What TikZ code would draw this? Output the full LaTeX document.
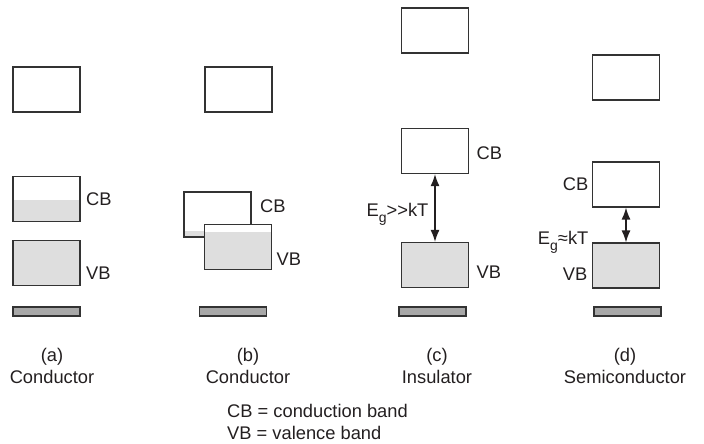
\documentclass[tikz,border=0pt]{standalone}
\usepackage{fontspec}
\setmainfont{Liberation Sans}
\usepackage{xcolor}
\definecolor{bdink}{HTML}{231F20}
\definecolor{bdline}{HTML}{333333}
\definecolor{bdfill}{HTML}{DEDEDE}
\definecolor{bdbarfill}{HTML}{A8A8A8}
\usepackage{tikz}
\usetikzlibrary{arrows.meta,positioning}
\newcommand\bdfont{\fontsize{18.3}{22}\selectfont}
\newcommand\bdsub[1]{\raisebox{-0.32em}{\fontsize{14}{14}\selectfont #1}}
\tikzset{
  bdband/.style ={rectangle, draw=bdline, fill=white, line width=1.3pt,
                  minimum width=67pt, minimum height=45pt, inner sep=0pt, outer sep=0pt},
  bdfull/.style ={bdband, fill=bdfill},
  bdpart/.style ={bdband, path picture={\fill[bdfill] (path picture bounding box.south west)
                  rectangle ([yshift=#1]path picture bounding box.north east);}},
  bdbar/.style  ={rectangle, draw=bdline, fill=bdbarfill, line width=1.3pt,
                  minimum width=67pt, minimum height=9pt, inner sep=0pt},
  bdlbl/.style  ={font=\bdfont, text=bdink, inner sep=0pt},
  bdgap/.style  ={{Latex[length=12pt,width=9pt]}-{Latex[length=12pt,width=9pt]},
                  line width=1.3pt, draw=bdink, shorten <=0.6pt, shorten >=0.6pt},
}

\begin{document}
\begin{tikzpicture}[x=1pt, y=-1pt]
  \useasboundingbox (0,0) rectangle (704,444);
  % empty upper bands and the lowest bands
  \foreach \n/\x/\y/\bx in {a/46.5/89.5/46.5, b/238.5/89.5/233, c/435/30.5/432.5, d/626/77.5/627.5}{
    \node[bdband] (top\n) at (\x,\y) {};
    \node[bdbar] (bar\n) at (\bx,311.5) {};
  }
  % (a) partly filled conduction band
  \node[bdpart=-23pt] (aCB) at (46.5,199) {};
  \node[bdfull] (aVB) at (46.5,263) {};
  \node[bdlbl, right=6pt of aCB.east] (aCBl) {CB};
  \node[bdlbl, right=6pt of aVB.east, yshift=-10pt] (aVBl) {VB};
  % (b) overlapping bands
  \node[bdpart=-39pt] (bCB) at (217.5,214.5) {};
  \node[bdpart=-7pt] (bVB) at (238,247) {};
  \node[bdlbl, right=9pt of bCB.east, yshift=8.5pt] (bCBl) {CB};
  \node[bdlbl, right=5pt of bVB.east, yshift=-12pt] (bVBl) {VB};
  % (c) wide gap
  \node[bdband] (cCB) at (435,151) {};
  \node[bdfull] (cVB) at (435,265) {};
  \node[bdlbl, right=8pt of cCB.east, yshift=-2pt] (cCBl) {CB};
  \node[bdlbl, right=8pt of cVB.east, yshift=-7pt] (cVBl) {VB};
  \draw[bdgap] (cCB.south) -- node[bdlbl, left=6pt, yshift=-6.5pt] (cEg) {E\bdsub{g}>{}>kT} (cVB.north);
  % (d) narrow gap
  \node[bdband] (dCB) at (626,184.5) {};
  \node[bdfull] (dVB) at (626,265.5) {};
  \node[bdlbl, left=4pt of dCB.west] (dCBl) {CB};
  \node[bdlbl, left=5pt of dVB.west, yshift=-8.5pt] (dVBl) {VB};
  \draw[bdgap] (dCB.south) -- node[bdlbl, pos=1, left=37pt, yshift=1pt] (dEg) {E\bdsub{g}≈kT} (dVB.north);
  % captions
  \foreach \n/\x/\txt in {a/52/Conductor, b/248/Conductor, c/437/Insulator, d/625/Semiconductor}
    \node[bdlbl, align=center] (cap\n) at (\x,366) {(\n)\\\txt};
  \node[bdlbl, align=left, anchor=north west, font=\fontsize{18.3}{21.5}\selectfont] (legend) at (227,404.5)
    {CB = conduction band\\VB = valence band};
\end{tikzpicture}
\end{document}
